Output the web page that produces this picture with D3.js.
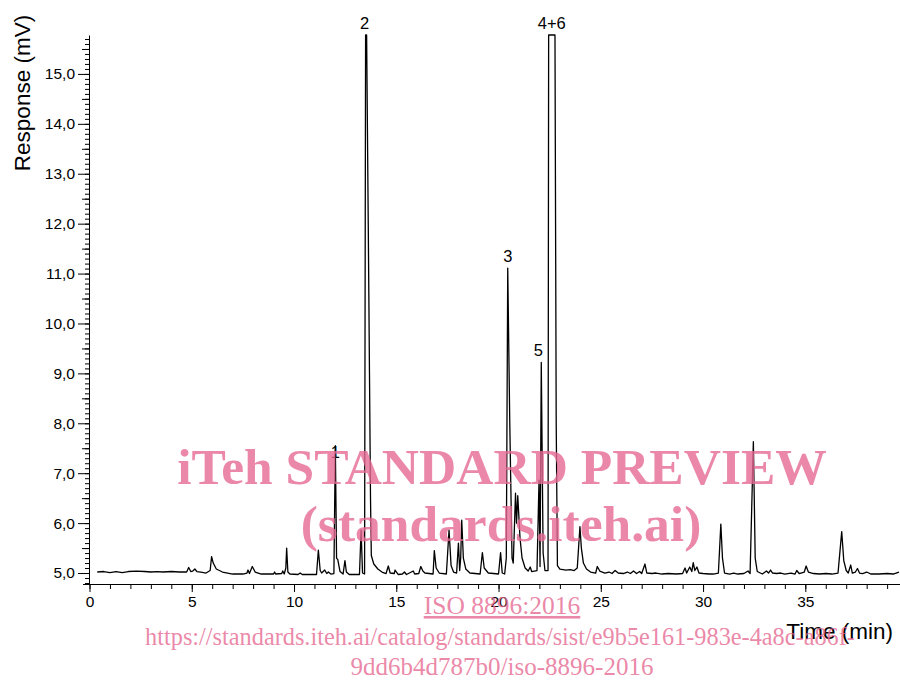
<!DOCTYPE html>
<html>
<head>
<meta charset="utf-8">
<script src="https://cdn.jsdelivr.net/npm/d3@7"></script>
<style>
  body { margin: 0; background: #fff; }
  svg { display: block; }
  .axis text { font-family: "Liberation Sans", Arial, sans-serif; font-size: 15.5px; fill: #000; }
  .axis path, .axis line { stroke: #000; }
</style>
</head>
<body>
<div id="container"></div>
<script>
// retention time (min) and detector response (mV)
const times = [
  0.38, 0.7, 1.0, 1.3, 1.6, 1.9, 2.3, 2.7, 3.0, 3.3, 3.6, 4.0, 4.4, 4.75, 4.85, 4.95, 5.05, 5.15, 5.25, 5.45,
  5.7, 5.9, 5.97, 6.05, 6.2, 6.5, 7.0, 7.5, 7.7, 7.75, 7.82, 7.96, 8.1, 8.4, 9.0, 9.05, 9.1, 9.4, 9.45, 9.52,
  9.6, 9.64, 9.7, 9.8, 10.2, 10.3, 10.4, 11.1, 11.19, 11.28, 11.35, 11.5, 11.6, 11.68, 11.8, 11.95, 12.02, 12.08, 12.14, 12.25,
  12.4, 12.49, 12.56, 12.7, 13.2, 13.28, 13.35, 13.45, 13.50, 13.55, 13.63, 13.69, 13.74, 13.78, 13.9, 14.1, 14.3, 14.5, 14.61, 14.7,
  14.9, 14.94, 15.1, 15.3, 15.4, 15.5, 15.83, 15.9, 16.1, 16.2, 16.3, 16.4, 16.8, 16.86, 16.95, 17.1, 17.45, 17.58, 17.68, 17.8,
  17.95, 18.04, 18.1, 18.15, 18.2, 18.28, 18.4, 18.6, 19.1, 19.21, 19.3, 19.5, 20.0, 20.1, 20.18, 20.3, 20.38, 20.45, 20.55, 20.66,
  20.72, 20.83, 20.88, 20.94, 21.05, 21.15, 21.3, 21.45, 21.55, 21.62, 21.88, 21.98, 22.03, 22.09, 22.18, 22.27, 22.42, 22.45, 22.76, 22.82,
  22.88, 23.0, 23.3, 23.5, 23.7, 23.85, 23.98, 24.05, 24.15, 24.3, 24.5, 24.75, 24.83, 24.95, 25.2, 25.4, 25.55, 25.7, 25.85, 26.1,
  26.3, 26.45, 26.6, 26.75, 26.9, 27.0, 27.16, 27.25, 27.5, 27.7, 28.0, 28.3, 28.7, 29.0, 29.12, 29.2, 29.35, 29.45, 29.52, 29.6,
  29.7, 29.8, 30.0, 30.3, 30.5, 30.75, 30.87, 30.95, 31.05, 31.3, 31.5, 31.7, 32.0, 32.2, 32.3, 32.46, 32.55, 32.65, 32.9, 33.1,
  33.2, 33.3, 33.4, 33.6, 33.8, 34.0, 34.3, 34.5, 34.58, 34.7, 34.95, 35.04, 35.15, 35.4, 35.7, 36.0, 36.3, 36.6, 36.78, 36.88,
  37.0, 37.1, 37.22, 37.3, 37.45, 37.55, 37.65, 37.8, 38.0, 38.2, 38.6, 39.0, 39.3, 39.58
];
const response = [
  5.02, 5.03, 5.01, 5.03, 5.01, 5.03, 5.04, 5.03, 5.02, 5.03, 5.02, 5.03, 5.02, 5.02, 5.11, 5.03, 5.04, 5.08, 5.03, 5.02,
  5.0, 5.05, 5.33, 5.2, 5.08, 5.02, 4.98, 4.98, 5.0, 5.06, 4.99, 5.13, 5.02, 4.98, 4.98, 5.02, 4.98, 4.99, 5.04, 4.98,
  5.1, 5.5, 5.02, 4.98, 4.97, 5.0, 4.97, 4.97, 5.46, 5.05, 5.0, 5.06, 4.99, 5.02, 4.98, 4.99, 7.55, 5.3, 5.27, 5.03,
  4.98, 5.25, 5.02, 4.97, 4.97, 5.86, 5.0, 4.98, 15.78, 15.78, 12.0, 9.0, 6.5, 5.35, 5.18, 5.08, 5.02, 4.99, 5.14, 5.0,
  4.99, 5.06, 4.97, 4.98, 5.02, 4.97, 5.04, 4.98, 4.99, 5.13, 5.04, 5.0, 4.98, 5.45, 5.1, 5.0, 4.98, 5.86, 5.15, 5.02,
  5.0, 5.6, 5.05, 5.3, 6.06, 5.3, 5.08, 5.0, 4.98, 5.41, 5.1, 5.0, 4.98, 5.41, 5.0, 4.98, 5.3, 11.11, 8.0, 5.3,
  5.2, 6.6, 6.0, 6.55, 5.7, 5.3, 5.1, 5.04, 5.12, 5.03, 5.05, 6.86, 5.13, 9.22, 5.4, 5.05, 5.05, 15.78, 15.78, 8.0,
  5.15, 5.08, 5.06, 5.07, 5.05, 5.1, 5.93, 5.5, 5.2, 5.08, 5.02, 5.0, 5.13, 5.04, 5.0, 5.02, 4.99, 5.05, 5.0, 4.99,
  5.02, 4.99, 5.04, 4.99, 5.03, 4.99, 5.18, 5.0, 4.99, 5.0, 4.98, 4.99, 4.98, 4.99, 5.1, 5.0, 5.12, 5.03, 5.21, 5.05,
  5.12, 5.0, 4.99, 4.98, 4.98, 5.0, 5.98, 5.3, 5.0, 4.98, 5.0, 4.98, 4.99, 5.04, 4.99, 7.63, 5.3, 5.03, 4.98, 5.04,
  5.0, 5.06, 5.0, 4.99, 5.0, 4.98, 5.0, 4.98, 5.05, 4.99, 5.02, 5.14, 5.02, 4.99, 4.98, 4.99, 4.98, 5.0, 5.83, 5.25,
  5.05, 5.0, 5.16, 5.0, 5.02, 5.09, 5.0, 4.99, 5.02, 4.98, 4.98, 4.99, 4.98, 5.02
];

// labelled peaks
const peakNames = ["1", "2", "3", "5", "4+6"];
const peakTimes = [12.02, 13.45, 20.45, 21.95, 22.6];
const peakTops = [7.55, 15.78, 11.11, 9.22, 15.78];

const xTicks = [0, 5, 10, 15, 20, 25, 30, 35];
const yTicks = [5, 6, 7, 8, 9, 10, 11, 12, 13, 14, 15];

const w = 900;
const h = 680;

const svg = d3.select("#container")
  .append("svg")
  .attr("width", w)
  .attr("height", h);

const x = d3.scaleLinear().domain([0, 39.63]).range([89.5, 900]);
const y = d3.scaleLinear().domain([4.78, 15.78]).range([584, 35]);

const comma = (d) => d3.format(".1f")(d).replace(".", ",");

// y axis: minor ticks every 0.1, medium every 0.5, labelled every 1
svg.append("g")
  .attr("class", "axis")
  .attr("transform", "translate(89, 0)")
  .call(d3.axisLeft(y).tickValues(d3.range(48, 158).map((d) => d / 10)).tickSize(4).tickFormat(""))
  .call((g) => g.select(".domain").remove());

svg.append("g")
  .attr("class", "axis")
  .attr("transform", "translate(89, 0)")
  .call(d3.axisLeft(y).tickValues(d3.range(5.5, 15.6, 1)).tickSize(7).tickFormat(""))
  .call((g) => g.select(".domain").remove());

svg.append("g")
  .attr("class", "axis")
  .attr("id", "y-axis")
  .attr("transform", "translate(89, 0)")
  .call(d3.axisLeft(y).tickValues(yTicks).tickSize(11).tickPadding(3).tickFormat(comma).tickSizeOuter(0));

// x axis: minor ticks each minute, labels every 5
svg.append("g")
  .attr("class", "axis")
  .attr("transform", "translate(0, 584)")
  .call(d3.axisBottom(x).tickValues(d3.range(0, 40)).tickSize(5).tickFormat(""))
  .call((g) => g.select(".domain").remove());

svg.append("g")
  .attr("class", "axis")
  .attr("id", "x-axis")
  .attr("transform", "translate(0, 584)")
  .call(d3.axisBottom(x).tickValues(xTicks).tickSize(8).tickPadding(4).tickSizeOuter(0))
  .call((g) => g.select(".domain").attr("d", "M83,0.5H900"));

svg.append("text")
  .attr("transform", "translate(30, 93) rotate(-90)")
  .attr("text-anchor", "middle")
  .style("font-family", "Liberation Sans, Arial, sans-serif")
  .style("font-size", "22.5px")
  .text("Response (mV)");

svg.append("text")
  .attr("x", 893)
  .attr("y", 639)
  .attr("text-anchor", "end")
  .style("font-family", "Liberation Sans, Arial, sans-serif")
  .style("font-size", "22.5px")
  .text("Time (min)");

// trace
const line = d3.line()
  .x((d, i) => x(times[i]))
  .y((d) => y(d));

svg.append("path")
  .datum(response)
  .attr("fill", "none")
  .attr("stroke", "#000")
  .attr("stroke-width", 1.3)
  .attr("stroke-linejoin", "round")
  .attr("d", line);

svg.selectAll(".peak-label")
  .data(peakNames)
  .enter()
  .append("text")
  .attr("class", "peak-label")
  .attr("x", (d, i) => x(peakTimes[i]))
  .attr("y", (d, i) => y(peakTops[i]) + (d === "1" ? 12 : -6))
  .attr("text-anchor", "middle")
  .style("font-family", "Liberation Sans, Arial, sans-serif")
  .style("font-size", "16.5px")
  .text((d) => d);

// watermark
const mark = svg.append("g")
  .attr("fill", "rgb(230,105,146)")
  .attr("fill-opacity", 0.8)
  .attr("text-anchor", "middle")
  .style("font-family", "Liberation Serif, 'Times New Roman', serif");

mark.append("text").attr("x", 502).attr("y", 484)
  .style("font-size", "51.5px").style("font-weight", "bold")
  .text("iTeh STANDARD PREVIEW");
mark.append("text").attr("x", 501).attr("y", 541)
  .style("font-size", "51.5px").style("font-weight", "bold")
  .text("(standards.iteh.ai)");
mark.append("text").attr("x", 502).attr("y", 614)
  .style("font-size", "25.5px").style("text-decoration", "underline")
  .text("ISO 8896:2016");
mark.append("text").attr("x", 500).attr("y", 645)
  .style("font-size", "24.3px")
  .text("https://standards.iteh.ai/catalog/standards/sist/e9b5e161-983e-4a8c-a86f-");
mark.append("text").attr("x", 502).attr("y", 675)
  .style("font-size", "25px")
  .text("9dd6b4d787b0/iso-8896-2016");
</script>
</body>
</html>
